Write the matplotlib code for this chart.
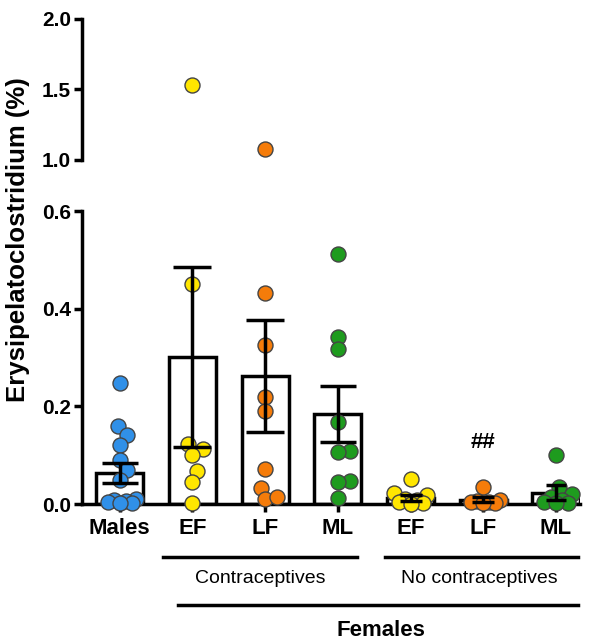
import numpy as np
import matplotlib
matplotlib.use("Agg")
import matplotlib.pyplot as plt

plt.rcParams["font.family"] = ["Liberation Sans", "DejaVu Sans"]

# data (% relative abundance)
labels = ["Males", "EF", "LF", "ML", "EF", "LF", "ML"]
males = [0.248, 0.160, 0.141, 0.121, 0.090, 0.070, 0.050, 0.010, 0.008, 0.006, 0.004, 0.003, 0.002]
contra_ef = [1.53, 0.45, 0.123, 0.113, 0.100, 0.068, 0.045, 0.002]
contra_lf = [1.08, 0.433, 0.325, 0.220, 0.190, 0.072, 0.033, 0.010, 0.015]
contra_ml = [0.513, 0.343, 0.317, 0.168, 0.108, 0.106, 0.048, 0.046, 0.012]
nocontra_ef = [0.051, 0.022, 0.018, 0.010, 0.008, 0.005, 0.002, 0.001]
nocontra_lf = [0.035, 0.008, 0.006, 0.005, 0.004, 0.003, 0.002]
nocontra_ml = [0.100, 0.035, 0.020, 0.015, 0.008, 0.005, 0.003, 0.002]
means = [0.063, 0.301, 0.262, 0.184, 0.013, 0.009, 0.023]
sems = [0.020, 0.185, 0.114, 0.057, 0.006, 0.005, 0.015]

groups = [males, contra_ef, contra_lf, contra_ml, nocontra_ef, nocontra_lf, nocontra_ml]
colors = ["#3090E8", "#FFE600", "#F57C0A", "#1E9B1E", "#FFE600", "#F57C0A", "#1E9B1E"]
capsizes = [13, 14, 14, 13, 8, 8, 7]

LW = 2.5
MS = 10.8
x = np.arange(len(labels))

fig = plt.figure(figsize=(5.91, 6.41), dpi=100)
ax = fig.add_axes([0.1387, 0.2137, 0.8426, 0.4571])
ax_top = fig.add_axes([0.1387, 0.7504, 0.8426, 0.2200])

xlim = (-0.52, 6.33)
for a in (ax, ax_top):
    a.set_xlim(*xlim)
    for s in ("top", "right"):
        a.spines[s].set_visible(False)
    a.spines["left"].set_linewidth(LW)
    a.spines["bottom"].set_linewidth(LW)
    a.tick_params(width=LW, length=6, labelsize=15, pad=2)

ax.set_ylim(0, 0.6)
ax_top.set_ylim(1.0, 2.0)
ax.set_yticks([0.0, 0.2, 0.4, 0.6])
ax.set_yticklabels(["0.0", "0.2", "0.4", "0.6"], fontweight="bold", fontsize=15)
ax_top.set_yticks([1.0, 1.5, 2.0])
ax_top.set_yticklabels(["1.0", "1.5", "2.0"], fontweight="bold", fontsize=15)
# break marks: ticks crossing the spine at the cut
ax.set_yticks([0.6], minor=True)
ax_top.set_yticks([1.0], minor=True)
for a in (ax, ax_top):
    a.tick_params(which="minor", direction="in", length=6, width=LW, left=True)

ax_top.spines["bottom"].set_visible(False)
ax_top.set_xticks([])

ax.set_xticks(x)
ax.set_xticklabels(labels, fontweight="bold", fontsize=16)
ax.tick_params(axis="x", length=6, pad=4)

ax.bar(x, means, width=0.65, color="white", edgecolor="black", linewidth=LW, zorder=2)


def swarm_offsets(a, center, values, diam_px=15.0, factor=0.8, max_off=1.15):
    # simple beeswarm in pixel space, horizontal spread capped at max_off * diameter
    pts = a.transData.transform(np.column_stack([np.full(len(values), center), values]))
    ys = pts[:, 1]
    cx = pts[0, 0]
    placed = []
    out = np.zeros(len(values))
    step = diam_px * 0.1
    cands = [0.0]
    k = 1
    while k * step <= max_off * diam_px + 1e-9:
        cands += [k * step, -k * step]
        k += 1
    lim = diam_px * factor
    for i in np.argsort(values):
        best, best_d = 0.0, -1.0
        for c in cands:
            d = min((np.hypot(c - px, ys[i] - py) for px, py in placed), default=np.inf)
            if d >= lim:
                best = c
                break
            if d > best_d:
                best, best_d = c, d
        placed.append((best, ys[i]))
        out[i] = best
    back = a.transData.inverted().transform(np.column_stack([cx + out, ys]))
    return back[:, 0]


for xi, vals, col in zip(x, groups, colors):
    vals = np.asarray(vals)
    low = vals[vals <= 0.6]
    high = vals[vals > 1.0]
    if len(low):
        ax.plot(swarm_offsets(ax, xi, low), low, "o", ms=MS, mfc=col, mec="#444444",
                mew=1.0, clip_on=False, zorder=3)
    if len(high):
        ax_top.plot(np.full(len(high), xi), high, "o", ms=MS, mfc=col, mec="#444444",
                    mew=1.0, clip_on=False, zorder=3)

for xi, m, s, cs in zip(x, means, sems, capsizes):
    ax.errorbar(xi, m, yerr=s, fmt="none", ecolor="black", elinewidth=LW,
                capsize=cs, capthick=LW, zorder=4)

ax.text(5, 0.125, "##", ha="center", va="center", fontsize=16, fontweight="bold")

# group annotations below the axis
trans = ax.get_xaxis_transform()
ax.plot([0.59, 3.26], [-0.181, -0.181], color="black", lw=LW, transform=trans, clip_on=False)
ax.plot([3.65, 6.30], [-0.181, -0.181], color="black", lw=LW, transform=trans, clip_on=False)
ax.plot([0.80, 6.30], [-0.345, -0.345], color="black", lw=LW, transform=trans, clip_on=False)
ax.text(1.93, -0.253, "Contraceptives", transform=trans, ha="center", va="center", fontsize=14)
ax.text(4.94, -0.253, "No contraceptives", transform=trans, ha="center", va="center", fontsize=14)
ax.text(3.59, -0.43, "Females", transform=trans, ha="center", va="center",
        fontsize=16, fontweight="bold")

fig.text(0.030, 1 - 240 / 641, "Erysipelatoclostridium (%)", rotation=90,
         ha="center", va="center", fontsize=18.5, fontweight="bold")

fig.savefig("out.png", dpi=100)
